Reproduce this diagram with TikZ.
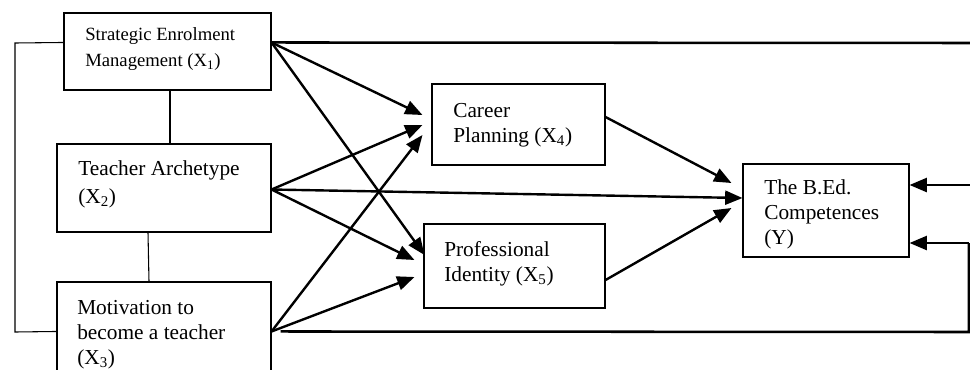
\documentclass[tikz,border=0pt]{standalone}
\usepackage{fontspec}
\setmainfont{Liberation Serif}
\usetikzlibrary{arrows.meta,calc}
\begin{document}
\begin{tikzpicture}[x=0.75pt,y=-0.75pt,
  box/.style={draw, line width=0.8pt, inner sep=0pt},
  lbl/.style={inner sep=0pt, anchor=base west},
  thin/.style={line width=0.8pt},
  conn/.style={line width=1.9pt},
  arr/.style={line width=1.8pt, -{Triangle[length=13pt,width=10.5pt]}}]
\useasboundingbox (0,0) rectangle (970,369);
\clip (0,0) rectangle (970,369);
% boxes
\node[box, minimum width=155.25pt, minimum height=57.75pt] (X1) at (167.5,51.5) {};
\node[box, minimum width=160.5pt, minimum height=66pt] (X2) at (164,188) {};
\node[box, minimum width=160.5pt, minimum height=84.75pt] (X3) at (164,338.5) {};
\node[box, minimum width=129.75pt, minimum height=60.75pt] (X4) at (518.5,124.5) {};
\node[box, minimum width=135.75pt, minimum height=63pt] (X5) at (514.5,266) {};
\node[box, minimum width=124.5pt, minimum height=69.75pt] (Y) at (826,210.5) {};
% labels
\node[lbl] (t1) at (85,40.5) {\parbox[t]{160pt}{\fontsize{14}{19.5}\selectfont Strategic Enrolment\\Management (X\textsubscript{1})}};
\node[lbl] (t2) at (78,175) {\parbox[t]{160pt}{\fontsize{16}{21}\selectfont Teacher Archetype\\(X\textsubscript{2})}};
\node[lbl] (t3) at (77,314) {\parbox[t]{160pt}{\fontsize{16}{18.75}\selectfont Motivation to\\become a teacher\\(X\textsubscript{3})}};
\node[lbl] (t4) at (453,117.5) {\parbox[t]{120pt}{\fontsize{16}{18.4}\selectfont Career\\Planning (X\textsubscript{4})}};
\node[lbl] (t5) at (444,256) {\parbox[t]{120pt}{\fontsize{16}{18.75}\selectfont Professional\\Identity (X\textsubscript{5})}};
\node[lbl] (tY) at (764,194.5) {\parbox[t]{120pt}{\fontsize{16}{18.75}\selectfont The B.Ed.\\Competences\\(Y)}};
% named points
\coordinate (s1) at ($(X1.north east)+(0,30)$);
\coordinate (s2) at ($(X2.east)+(0,1.5)$);
\coordinate (s3) at ($(X3.north east)+(0,50)$);
\coordinate (b1) at ($(X1.north west)+(0,30)$);
\coordinate (b3) at ($(X3.north west)+(0,50)$);
\coordinate (a14) at ($(X4.west)+(-9,-9.5)$);
\coordinate (a24) at ($(X4.west)+(-9,0.5)$);
\coordinate (a34) at ($(X4.west)+(-9,10.5)$);
\coordinate (a15) at ($(X5.west)+(1,-11)$);
\coordinate (a25) at ($(X5.west)+(-9,-6)$);
\coordinate (a35) at ($(X5.west)+(-9,11)$);
\coordinate (a2Y) at ($(Y.west)+(0,-12.5)$);
\coordinate (a4Y) at ($(Y.west)+(-11,-27.5)$);
\coordinate (a5Y) at ($(Y.west)+(-11,-2.5)$);
\coordinate (o4) at ($(X4.east)+(0,-7.5)$);
\coordinate (o5) at ($(X5.east)+(0,14)$);
\coordinate (yR1) at ($(Y.east)+(0,-25.5)$);
\coordinate (yR2) at ($(Y.east)+(0,32.5)$);
\coordinate (e1) at (972,43);
\coordinate (e2) at (972,185);
\coordinate (e3) at (969,332);
\coordinate (b3s) at ($(s3)+(9,0)$);
% thin links
\draw[thin] (b1) -- (15,43) -- (15,332) -- (b3);
\draw[thin] (X1.south -| 170,0) -- (X2.north -| 170,0);
\draw[thin] (X2.south -| 148,0) -- (X3.north -| 149,0);
% thick lines
\draw[conn] (s1) -- (e1);
\draw[arr] (e2) -- (yR1);
\draw[conn] (b3s) -- (e3) -- (e3 |- yR2);
\draw[arr] (e3 |- yR2) -- (yR2);
% arrows
\draw[arr] (s1) -- (a14);
\draw[arr] (s1) -- (a15);
\draw[arr] (s2) -- (a24);
\draw[arr] (s2) -- (a2Y);
\draw[arr] (s2) -- (a25);
\draw[arr] (s3) -- (a34);
\draw[arr] (s3) -- (a35);
\draw[arr] (o4) -- (a4Y);
\draw[arr] (o5) -- (a5Y);
\end{tikzpicture}
\end{document}
